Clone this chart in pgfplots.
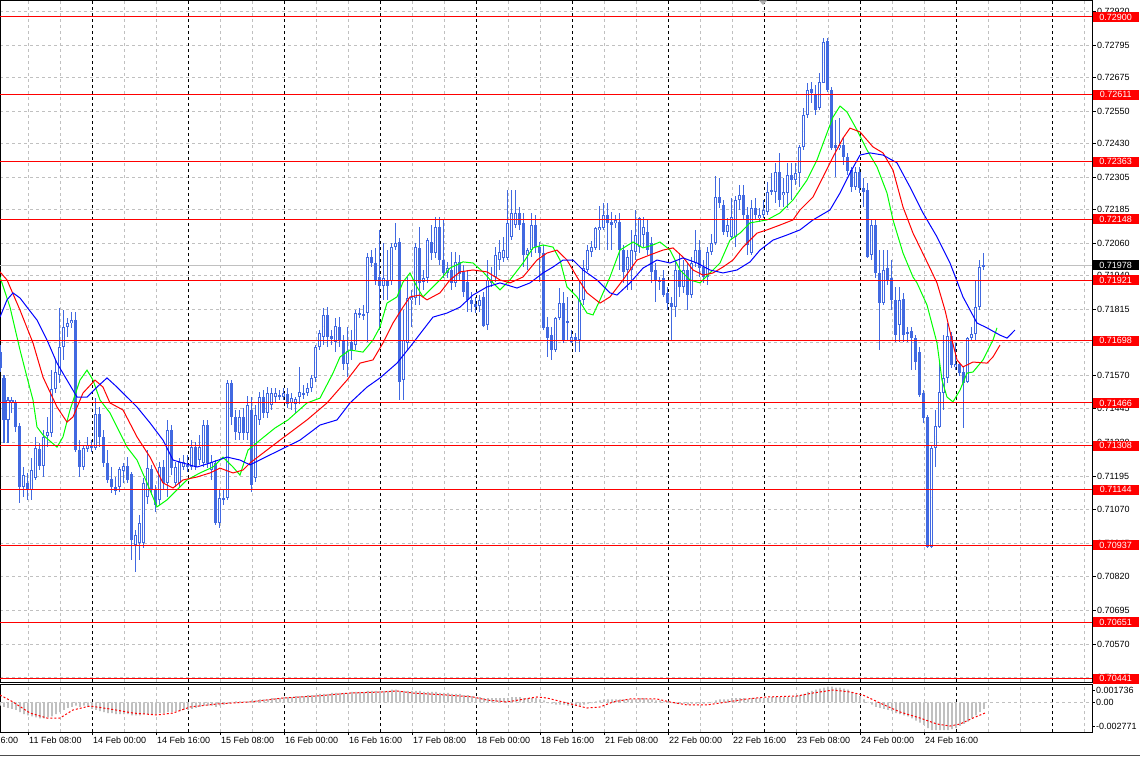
\documentclass[border=0pt]{standalone}
\usepackage{fontspec}
\setmainfont{Liberation Sans}
\usepackage{pgfplots}
\usepackage{pgfplotstable}
\pgfplotsset{compat=1.18}

\definecolor{candle}{RGB}{65,105,225}
\definecolor{gridgray}{RGB}{192,192,192}
\definecolor{mtgreen}{RGB}{0,255,0}

% hourly bars, x = trading hours from 11 Feb 08:00
\pgfplotstableread{
h o hi lo c
-7 0.71655 0.71681 0.71581 0.71596
-6 0.71562 0.71570 0.71317 0.71403
-5 0.71403 0.71488 0.71317 0.71477
-4 0.71466 0.71488 0.71429 0.71477
-3 0.71466 0.71477 0.71358 0.71377
-2 0.71380 0.71392 0.71094 0.71154
-1 0.71154 0.71228 0.71117 0.71198
0 0.71169 0.71206 0.71106 0.71143
1 0.71143 0.71262 0.71106 0.71217
2 0.71187 0.71340 0.71180 0.71299
3 0.71295 0.71317 0.71217 0.71232
4 0.71232 0.71366 0.71191 0.71340
5 0.71343 0.71414 0.71302 0.71358
6 0.71354 0.71588 0.71340 0.71518
7 0.71518 0.71626 0.71503 0.71581
8 0.71570 0.71819 0.71540 0.71674
9 0.71674 0.71811 0.71626 0.71748
10 0.71748 0.71782 0.71711 0.71763
11 0.71763 0.71804 0.71745 0.71774
12 0.71774 0.71804 0.71284 0.71291
13 0.71291 0.71328 0.71191 0.71228
14 0.71228 0.71310 0.71217 0.71299
15 0.71295 0.71340 0.71284 0.71310
16 0.71302 0.71328 0.71284 0.71306
17 0.71299 0.71484 0.71291 0.71425
18 0.71425 0.71451 0.71302 0.71340
19 0.71340 0.71366 0.71228 0.71243
20 0.71243 0.71291 0.71169 0.71180
21 0.71184 0.71228 0.71132 0.71154
22 0.71154 0.71191 0.71124 0.71139
23 0.71154 0.71228 0.71135 0.71221
24 0.71213 0.71243 0.71169 0.71232
25 0.71232 0.71265 0.71169 0.71180
26 0.71202 0.71210 0.70883 0.70957
27 0.70938 0.70994 0.70838 0.70975
28 0.70946 0.71050 0.70883 0.71020
29 0.70946 0.71187 0.70927 0.71169
30 0.71117 0.71291 0.71094 0.71224
31 0.71224 0.71236 0.71124 0.71143
32 0.71143 0.71161 0.71061 0.71087
33 0.71106 0.71247 0.71087 0.71228
34 0.71228 0.71254 0.71143 0.71169
35 0.71169 0.71403 0.71117 0.71366
36 0.71366 0.71384 0.71198 0.71224
37 0.71169 0.71247 0.71154 0.71228
38 0.71169 0.71262 0.71150 0.71247
39 0.71228 0.71273 0.71217 0.71247
40 0.71228 0.71273 0.71210 0.71236
41 0.71228 0.71328 0.71217 0.71302
42 0.71302 0.71321 0.71217 0.71228
43 0.71254 0.71347 0.71236 0.71302
44 0.71243 0.71403 0.71228 0.71384
45 0.71384 0.71403 0.71224 0.71243
46 0.71217 0.71273 0.71180 0.71247
47 0.71243 0.71254 0.71013 0.71020
48 0.71020 0.71143 0.71002 0.71113
49 0.71106 0.71143 0.71087 0.71113
50 0.71113 0.71551 0.71106 0.71540
51 0.71540 0.71551 0.71384 0.71414
52 0.71414 0.71440 0.71328 0.71358
53 0.71354 0.71440 0.71328 0.71414
54 0.71414 0.71447 0.71328 0.71354
55 0.71354 0.71492 0.71328 0.71458
56 0.71440 0.71488 0.71135 0.71161
57 0.71187 0.71458 0.71172 0.71421
58 0.71403 0.71507 0.71384 0.71488
59 0.71488 0.71514 0.71410 0.71429
60 0.71429 0.71525 0.71410 0.71503
61 0.71458 0.71522 0.71440 0.71503
62 0.71488 0.71522 0.71470 0.71503
63 0.71488 0.71514 0.71477 0.71496
64 0.71488 0.71522 0.71477 0.71503
65 0.71499 0.71522 0.71447 0.71462
66 0.71466 0.71503 0.71440 0.71484
67 0.71462 0.71488 0.71429 0.71481
68 0.71488 0.71600 0.71462 0.71507
69 0.71496 0.71533 0.71484 0.71503
70 0.71503 0.71540 0.71492 0.71522
71 0.71522 0.71570 0.71507 0.71559
72 0.71559 0.71681 0.71544 0.71674
73 0.71674 0.71737 0.71663 0.71726
74 0.71711 0.71819 0.71681 0.71793
75 0.71793 0.71822 0.71674 0.71711
76 0.71715 0.71737 0.71681 0.71704
77 0.71692 0.71782 0.71655 0.71752
78 0.71748 0.71785 0.71674 0.71700
79 0.71700 0.71718 0.71588 0.71611
80 0.71611 0.71748 0.71562 0.71659
81 0.71692 0.71737 0.71626 0.71659
82 0.71681 0.71811 0.71663 0.71800
83 0.71793 0.71819 0.71782 0.71800
84 0.71793 0.71830 0.71774 0.71796
85 0.71800 0.72023 0.71692 0.72008
86 0.72008 0.72034 0.71971 0.71986
87 0.71986 0.72042 0.71904 0.71923
88 0.71934 0.72109 0.71737 0.71901
89 0.71901 0.72060 0.71849 0.71930
90 0.71923 0.72034 0.71849 0.71901
91 0.71919 0.72060 0.71904 0.72045
92 0.72045 0.72135 0.72034 0.72060
93 0.72064 0.72079 0.71477 0.71544
94 0.71551 0.71811 0.71477 0.71700
95 0.71689 0.71934 0.71663 0.71856
96 0.71849 0.71886 0.71748 0.71860
97 0.71856 0.72060 0.71830 0.72045
98 0.72045 0.72120 0.71830 0.71912
99 0.71915 0.71960 0.71886 0.71930
100 0.71930 0.72079 0.71912 0.72071
101 0.72064 0.72127 0.71997 0.72023
102 0.72023 0.72157 0.72005 0.72120
103 0.72120 0.72157 0.71978 0.71997
104 0.71997 0.72146 0.71930 0.71949
105 0.71949 0.71990 0.71930 0.71967
106 0.71960 0.72027 0.71886 0.71912
107 0.71915 0.72027 0.71897 0.71990
108 0.71990 0.72016 0.71923 0.71945
109 0.71953 0.71979 0.71860 0.71878
110 0.71915 0.71960 0.71804 0.71849
111 0.71849 0.71878 0.71804 0.71834
112 0.71834 0.71860 0.71804 0.71822
113 0.71826 0.71867 0.71804 0.71849
114 0.71860 0.71878 0.71748 0.71752
115 0.71756 0.71997 0.71737 0.71923
116 0.71923 0.71971 0.71897 0.71912
117 0.71934 0.72045 0.71915 0.72016
118 0.71997 0.72071 0.71960 0.72027
119 0.72005 0.72083 0.71990 0.72034
120 0.72005 0.72257 0.71997 0.72135
121 0.72083 0.72257 0.72071 0.72172
122 0.72127 0.72257 0.72116 0.72172
123 0.72172 0.72194 0.72109 0.72127
124 0.72135 0.72172 0.71971 0.72016
125 0.72016 0.72042 0.71960 0.72034
126 0.72034 0.72172 0.72008 0.72127
127 0.72127 0.72164 0.72023 0.72045
128 0.72045 0.72064 0.71915 0.72023
129 0.72023 0.72053 0.71737 0.71745
130 0.71748 0.71785 0.71637 0.71707
131 0.71718 0.71748 0.71626 0.71663
132 0.71663 0.71785 0.71655 0.71782
133 0.71782 0.71893 0.71774 0.71837
134 0.71837 0.71878 0.71689 0.71700
135 0.71767 0.71860 0.71700 0.71770
136 0.71692 0.71737 0.71689 0.71711
137 0.71711 0.71726 0.71655 0.71696
138 0.71700 0.71923 0.71655 0.71849
139 0.71849 0.71997 0.71830 0.71967
140 0.71960 0.72053 0.71953 0.72034
141 0.72027 0.72071 0.72008 0.72045
142 0.72042 0.72120 0.72034 0.72116
143 0.72109 0.72201 0.72034 0.72120
144 0.72116 0.72209 0.72109 0.72164
145 0.72164 0.72209 0.72034 0.72135
146 0.72138 0.72175 0.72034 0.72127
147 0.72135 0.72164 0.72116 0.72146
148 0.72138 0.72172 0.71960 0.72034
149 0.72034 0.72053 0.71912 0.71953
150 0.71960 0.72034 0.71886 0.72008
151 0.71960 0.72109 0.71886 0.72034
152 0.72027 0.72183 0.71997 0.72090
153 0.72045 0.72157 0.72023 0.72153
154 0.72090 0.72157 0.72045 0.72120
155 0.72101 0.72146 0.72016 0.72034
156 0.72060 0.72083 0.71912 0.71953
157 0.71960 0.71986 0.71841 0.71923
158 0.71923 0.71934 0.71886 0.71915
159 0.71930 0.71960 0.71860 0.71867
160 0.71875 0.71897 0.71811 0.71837
161 0.71837 0.71860 0.71700 0.71822
162 0.71822 0.71997 0.71785 0.71960
163 0.71960 0.72023 0.71860 0.71897
164 0.71897 0.71997 0.71875 0.71960
165 0.71960 0.71986 0.71811 0.71867
166 0.71867 0.72008 0.71856 0.71986
167 0.71986 0.72109 0.71971 0.72034
168 0.72034 0.72071 0.71934 0.71967
169 0.71971 0.71997 0.71912 0.71934
170 0.71934 0.72045 0.71904 0.72027
171 0.72027 0.72097 0.72016 0.72060
172 0.72060 0.72309 0.72053 0.72231
173 0.72231 0.72302 0.72190 0.72209
174 0.72201 0.72220 0.72090 0.72101
175 0.72101 0.72153 0.72083 0.72127
176 0.72083 0.72227 0.72071 0.72157
177 0.72083 0.72235 0.72045 0.72220
178 0.72220 0.72276 0.72183 0.72239
179 0.72239 0.72276 0.72146 0.72164
180 0.72164 0.72194 0.72016 0.72053
181 0.72023 0.72220 0.72016 0.72190
182 0.72190 0.72227 0.72146 0.72164
183 0.72153 0.72190 0.72138 0.72164
184 0.72164 0.72220 0.72153 0.72183
185 0.72175 0.72287 0.72164 0.72250
186 0.72250 0.72320 0.72239 0.72257
187 0.72250 0.72358 0.72209 0.72324
188 0.72324 0.72395 0.72194 0.72220
189 0.72239 0.72302 0.72194 0.72250
190 0.72246 0.72358 0.72190 0.72313
191 0.72313 0.72358 0.72220 0.72294
192 0.72294 0.72358 0.72276 0.72320
193 0.72320 0.72424 0.72268 0.72417
194 0.72417 0.72562 0.72406 0.72536
195 0.72536 0.72658 0.72525 0.72629
196 0.72632 0.72658 0.72580 0.72618
197 0.72610 0.72647 0.72536 0.72554
198 0.72562 0.72692 0.72554 0.72658
199 0.72658 0.72822 0.72655 0.72807
200 0.72814 0.72822 0.72621 0.72629
201 0.72629 0.72640 0.72406 0.72413
202 0.72424 0.72517 0.72305 0.72413
203 0.72413 0.72525 0.72406 0.72424
204 0.72424 0.72450 0.72350 0.72380
205 0.72380 0.72395 0.72313 0.72331
206 0.72331 0.72343 0.72250 0.72268
207 0.72268 0.72343 0.72257 0.72324
208 0.72324 0.72343 0.72246 0.72265
209 0.72265 0.72302 0.72194 0.72250
210 0.72257 0.72283 0.72005 0.72008
211 0.72016 0.72146 0.71997 0.72127
212 0.72127 0.72146 0.71930 0.71949
213 0.71949 0.72034 0.71663 0.71837
214 0.71837 0.72034 0.71830 0.71960
215 0.71967 0.72034 0.71904 0.71923
216 0.71930 0.71997 0.71811 0.71849
217 0.71849 0.71897 0.71692 0.71718
218 0.71756 0.71897 0.71692 0.71849
219 0.71852 0.71875 0.71692 0.71718
220 0.71722 0.71748 0.71692 0.71730
221 0.71733 0.71748 0.71588 0.71707
222 0.71707 0.71718 0.71588 0.71618
223 0.71655 0.71674 0.71488 0.71496
224 0.71503 0.71514 0.71392 0.71410
225 0.71414 0.71421 0.70927 0.70931
226 0.70931 0.71306 0.70927 0.71299
227 0.71299 0.71440 0.71228 0.71380
228 0.71377 0.71626 0.71373 0.71507
229 0.71503 0.71718 0.71440 0.71559
230 0.71559 0.71763 0.71540 0.71715
231 0.71715 0.71730 0.71596 0.71607
232 0.71600 0.71689 0.71588 0.71611
233 0.71611 0.71618 0.71566 0.71577
234 0.71581 0.71600 0.71373 0.71540
235 0.71544 0.71711 0.71540 0.71707
236 0.71707 0.71748 0.71696 0.71722
237 0.71722 0.71923 0.71700 0.71822
238 0.71822 0.71997 0.71811 0.71971
239 0.71971 0.72023 0.71960 0.71978
}\candles

% MACD histogram
\pgfplotstableread{
h v
-7 -0.0003
-6 -0.0004
-5 -0.0005
-4 -0.0006
-3 -0.0007
-2 -0.0009
-1 -0.0011
0 -0.0012
1 -0.0013
2 -0.0014
3 -0.0015
4 -0.0015
5 -0.0014
6 -0.0013
7 -0.0011
8 -0.0009
9 -0.0007
10 -0.0005
11 -0.0004
12 -0.0003
13 -0.0004
14 -0.0003
15 -0.0004
16 -0.0006
17 -0.0007
18 -0.0008
19 -0.0009
20 -0.0010
21 -0.0010
22 -0.0011
23 -0.0011
24 -0.0011
25 -0.0011
26 -0.0012
27 -0.0012
28 -0.0012
29 -0.0011
30 -0.0011
31 -0.0011
32 -0.0011
33 -0.0010
34 -0.0010
35 -0.0009
36 -0.0009
37 -0.0008
38 -0.0008
39 -0.0007
40 -0.0007
41 -0.0006
42 -0.0005
43 -0.0004
44 -0.0003
45 -0.0003
46 -0.0003
47 -0.0004
48 -0.0003
49 -0.0002
50 -0.0001
51 0.00005
52 0.0001
53 0.0001
54 0.0001
55 0.0001
56 0.0002
57 0.0002
58 0.0003
59 0.0003
60 0.0003
61 0.0004
62 0.0004
63 0.0004
64 0.0005
65 0.0005
66 0.0005
67 0.0006
68 0.0006
69 0.0006
70 0.0007
71 0.0007
72 0.0007
73 0.0008
74 0.0008
75 0.0008
76 0.0009
77 0.0009
78 0.0009
79 0.0009
80 0.0009
81 0.0010
82 0.0010
83 0.0010
84 0.0010
85 0.0011
86 0.0011
87 0.0011
88 0.0011
89 0.0011
90 0.0011
91 0.0012
92 0.0012
93 0.0011
94 0.0011
95 0.0011
96 0.0011
97 0.0011
98 0.0011
99 0.0010
100 0.0010
101 0.0010
102 0.0010
103 0.0009
104 0.0009
105 0.0009
106 0.0008
107 0.0008
108 0.0008
109 0.0007
110 0.0007
111 0.0006
112 0.0005
113 0.0005
114 0.0004
115 0.0004
116 0.0004
117 0.0004
118 0.0004
119 0.0004
120 0.0004
121 0.0005
122 0.0005
123 0.0005
124 0.0004
125 0.0004
126 0.0004
127 0.0004
128 0.0003
129 0.0002
130 -0.00005
131 -0.0001
132 -0.0002
133 -0.0002
134 -0.0002
135 -0.0003
136 -0.0003
137 -0.0003
138 -0.0003
139 -0.0002
140 -0.0001
141 -0.00005
142 0.0001
143 0.0002
144 0.0003
145 0.0003
146 0.0003
147 0.0003
148 0.0003
149 0.0003
150 0.0003
151 0.0003
152 0.0003
153 0.0004
154 0.0004
155 0.0003
156 0.0003
157 0.0002
158 0.0002
159 0.0001
160 0.0001
161 -0.00005
162 -0.0001
163 -0.0001
164 -0.0001
165 -0.0002
166 -0.0001
167 -0.0001
168 -0.0001
169 -0.0001
170 -0.00005
171 0.00005
172 0.0002
173 0.0003
174 0.0003
175 0.0003
176 0.0004
177 0.0004
178 0.0004
179 0.0004
180 0.0003
181 0.0004
182 0.0004
183 0.0004
184 0.0004
185 0.0004
186 0.0005
187 0.0005
188 0.0005
189 0.0005
190 0.0005
191 0.0005
192 0.0006
193 0.0007
194 0.0008
195 0.0010
196 0.0011
197 0.0012
198 0.0013
199 0.0014
200 0.0015
201 0.0015
202 0.0014
203 0.0014
204 0.0013
205 0.0012
206 0.0010
207 0.0008
208 0.0006
209 0.0003
210 0.00005
211 -0.0002
212 -0.0004
213 -0.0005
214 -0.0006
215 -0.0007
216 -0.0008
217 -0.0010
218 -0.0011
219 -0.0012
220 -0.0013
221 -0.0015
222 -0.0017
223 -0.0019
224 -0.0021
225 -0.0024
226 -0.0026
227 -0.0026
228 -0.0026
229 -0.0026
230 -0.0026
231 -0.0025
232 -0.0024
233 -0.0022
234 -0.0020
235 -0.0018
236 -0.0015
237 -0.0012
238 -0.0009
239 -0.0006
}\macd

\begin{document}
\begin{tikzpicture}[font=\fontsize{9}{10}\selectfont]
\useasboundingbox (0pt,0pt) rectangle (1140pt,-757pt);

\begin{axis}[
  at={(0pt,0pt)}, anchor=north west, scale only axis,
  width=1092pt, height=682pt,
  xmin=-7, xmax=266, ymin=0.704294, ymax=0.72963,
  clip=false,
  axis line style={black, line width=0.8pt},
  scaled y ticks=false,
  xtick={0,16,...,224}, xticklabels={},
  minor xtick={8,24,...,232,240,248,256,264},
  xtick style={draw=none},
  xmajorgrids, xminorgrids, ymajorgrids,
  major grid style={gridgray, dash pattern=on 3pt off 3pt, line width=0.8pt},
  minor grid style={gridgray, dash pattern=on 3pt off 3pt, line width=0.8pt},
  ytick={0.72920,0.72795,0.72675,0.72550,0.72430,0.72305,0.72185,0.72060,0.71940,0.71815,0.71690,0.71570,0.71445,0.71320,0.71195,0.71070,0.70945,0.70820,0.70695,0.70570,0.70445},
  yticklabels={0.72920,0.72795,0.72675,0.72550,0.72430,0.72305,0.72185,0.72060,0.71940,0.71815,0.71690,0.71570,0.71445,0.71320,0.71195,0.71070,0.70945,0.70820,0.70695,0.70570,0.70445},
  ytick pos=right, yticklabel pos=right,
  tick align=outside, major tick length=4pt, minor tick length=0pt,
  ytick style={black, line width=0.8pt},
  yticklabel style={anchor=west, inner sep=0pt, xshift=1pt},
  candles/.style={only marks, mark=*, mark size=0pt, mark options={draw=none, fill=none}, forget plot},
]
% day separators
\pgfplotsinvokeforeach{16,40,...,256}{
  \draw[black, dash pattern=on 3pt off 3pt, line width=0.8pt] (axis cs:#1,0.704294) -- (axis cs:#1,0.72963);
}
% bid line
\draw[gridgray, line width=1pt] (axis cs:-7,0.71978) -- (axis cs:266,0.71978);

% wicks
\addplot[candles,
  error bars/.cd, y dir=both, y explicit, error mark=none,
  error bar style={draw=candle, solid, line width=1pt}]
  table[x=h, y expr={(\thisrow{hi}+\thisrow{lo})/2}, y error expr={(\thisrow{hi}-\thisrow{lo})/2}] {\candles};
% bodies
\addplot[candles,
  error bars/.cd, y dir=both, y explicit, error mark=none,
  error bar style={draw=candle, solid, line width=3pt}]
  table[x=h, y expr={(\thisrow{o}+\thisrow{c})/2}, y error expr={max(abs(\thisrow{c}-\thisrow{o})/2,0.000019)}] {\candles};
% hollow centres of up bars
\addplot[candles,
  restrict expr to domain={\thisrow{c}-\thisrow{o}}{0.0001:1},
  error bars/.cd, y dir=both, y explicit, error mark=none,
  error bar style={draw=white, solid, line width=1pt}]
  table[x=h, y expr={(\thisrow{o}+\thisrow{c})/2}, y error expr={(\thisrow{c}-\thisrow{o})/2-0.0000372}] {\candles};

% moving averages
\addplot[mtgreen, line width=1pt, mark=none] coordinates {
(-7,0.71934) (-4.5,0.71822) (-2,0.71663) (-0.25,0.71562) (1.25,0.71477) (2.25,0.71377) (3.75,0.71347) (7.25,0.71302) (8.75,0.71340) (10.5,0.71440) (13,0.71551) (14.75,0.71588) (16.25,0.71551) (18,0.71477) (20.5,0.71429) (24.75,0.71302) (27.25,0.71254) (29.75,0.71169) (32.25,0.71080) (34.75,0.71106) (37.25,0.71143) (39.75,0.71180) (43,0.71206) (46.25,0.71228) (48.75,0.71265) (51.25,0.71228) (53,0.71198) (55,0.71291) (58,0.71328) (61.75,0.71373) (65,0.71403) (69.75,0.71466) (73,0.71484) (76.25,0.71577) (78,0.71637) (80.5,0.71663) (83.75,0.71655) (86.25,0.71700) (88,0.71748) (89.75,0.71837) (92.25,0.71860) (93.75,0.71915) (95.5,0.71949) (97.25,0.71897) (98.75,0.71860) (100.5,0.71886) (103,0.71923) (105.5,0.71967) (108.75,0.71990) (111.25,0.71986) (113.75,0.71953) (116.25,0.71912) (118,0.71886) (120.5,0.71923) (123.75,0.71986) (126.25,0.72042) (128.75,0.72053) (131.25,0.72045) (133,0.71997) (134.75,0.71897) (137.25,0.71860) (139.75,0.71800) (141.25,0.71793) (143,0.71849) (145.5,0.71934) (148,0.72034) (151.25,0.72064) (153.75,0.72042) (156.25,0.72053) (158,0.72064) (160.5,0.72034) (163,0.71960) (165.5,0.71923) (168,0.71912) (170.5,0.71949) (173,0.71986) (175.5,0.72071) (178,0.72097) (180.5,0.72135) (184.75,0.72146) (188,0.72172) (191.25,0.72220) (194.75,0.72294) (197.25,0.72369) (199.75,0.72469) (201.25,0.72528) (203,0.72569) (204.75,0.72547) (207.25,0.72480) (209.75,0.72406) (212.25,0.72343) (214.75,0.72246) (216.25,0.72146) (218.75,0.72023) (221.25,0.71934) (222.25,0.71912) (224.75,0.71830) (227.25,0.71689) (228.5,0.71551) (229.75,0.71488) (231.25,0.71470) (233,0.71514) (234.75,0.71577) (236.25,0.71581) (238.75,0.71626) (241.25,0.71700) (242.25,0.71745)
};
\addplot[red, line width=1pt, mark=none] coordinates {
(-7,0.71953) (-5.25,0.71923) (-2,0.71811) (1.25,0.71689) (3.75,0.71562) (7.25,0.71451) (9.75,0.71395) (11.25,0.71414) (13.75,0.71503) (16.75,0.71551) (18.75,0.71525) (20.5,0.71466) (23.75,0.71440) (27.25,0.71340) (30.5,0.71265) (33.75,0.71169) (36.25,0.71150) (38.75,0.71180) (42.25,0.71191) (45.5,0.71206) (48,0.71224) (51.25,0.71206) (53.75,0.71217) (55.5,0.71243) (63,0.71328) (69.75,0.71403) (74.75,0.71466) (79.75,0.71551) (83,0.71614) (86.25,0.71626) (88.75,0.71689) (91.25,0.71763) (93.75,0.71822) (95.5,0.71860) (98,0.71867) (99.75,0.71849) (103,0.71875) (105.5,0.71923) (108,0.71953) (111.25,0.71960) (114.75,0.71953) (118,0.71923) (120.5,0.71912) (123.75,0.71934) (127.25,0.71997) (129.75,0.72023) (132.25,0.72034) (134.75,0.71997) (137.25,0.71934) (139.75,0.71875) (143,0.71837) (145.5,0.71860) (148.75,0.71923) (152.25,0.71997) (155.5,0.72016) (158.75,0.72034) (161.25,0.72042) (163.75,0.72008) (166.25,0.71960) (168.75,0.71941) (171.25,0.71949) (173.75,0.71971) (176.25,0.71997) (178.75,0.72045) (182.25,0.72097) (184.75,0.72109) (188,0.72127) (191.25,0.72146) (193,0.72183) (196.25,0.72231) (198.75,0.72305) (201.25,0.72380) (203.75,0.72450) (205.5,0.72487) (208,0.72473) (211.25,0.72417) (213.75,0.72395) (216.25,0.72331) (218.75,0.72194) (221.25,0.72097) (224.75,0.71990) (227.25,0.71912) (229.25,0.71811) (231,0.71700) (232.25,0.71626) (233.75,0.71600) (236.25,0.71618) (239.75,0.71614) (241.25,0.71637) (243,0.71681)
};
\addplot[blue, line width=1pt, mark=none] coordinates {
(-7,0.71785) (-5.25,0.71849) (-3.75,0.71875) (-2,0.71856) (-0.25,0.71822) (2.25,0.71774) (4.75,0.71700) (7.25,0.71614) (9.75,0.71551) (12.25,0.71488) (14.75,0.71488) (17.25,0.71525) (19.75,0.71559) (22.25,0.71525) (24.75,0.71488) (27.25,0.71451) (30.5,0.71392) (33.75,0.71328) (36.25,0.71254) (38.75,0.71243) (42.25,0.71228) (45.5,0.71243) (49.75,0.71265) (53,0.71254) (55.5,0.71236) (60.5,0.71273) (68,0.71328) (73,0.71384) (77.25,0.71403) (80.5,0.71466) (84.75,0.71525) (88,0.71559) (92.25,0.71614) (95.5,0.71674) (98.75,0.71737) (101.25,0.71785) (104.75,0.71800) (108,0.71822) (111.25,0.71867) (114.75,0.71897) (118,0.71912) (122.25,0.71893) (125.5,0.71912) (128.75,0.71949) (131.25,0.71971) (133.75,0.71997) (136.25,0.71997) (138.75,0.71960) (142.25,0.71923) (145.5,0.71875) (147.25,0.71867) (150.5,0.71912) (153.75,0.71967) (157.25,0.71997) (160.5,0.71986) (163.75,0.72005) (167.25,0.71986) (170.5,0.71960) (173.75,0.71949) (177.25,0.71960) (180.5,0.71990) (183,0.72034) (186.25,0.72071) (189.75,0.72090) (193,0.72109) (196.25,0.72146) (200.5,0.72183) (203,0.72246) (205.5,0.72320) (208,0.72387) (210.5,0.72395) (213.75,0.72387) (217.25,0.72358) (220.5,0.72268) (223.75,0.72172) (227.25,0.72083) (230.5,0.71986) (233.75,0.71860) (237.25,0.71763) (239.75,0.71745) (243,0.71718) (244.75,0.71707) (246.75,0.71737)
};

% horizontal levels
\pgfplotsinvokeforeach{0.72900,0.72611,0.72363,0.72148,0.71921,0.71698,0.71466,0.71308,0.71144,0.70937,0.70651,0.70441}{
  \draw[red, line width=1pt] (axis cs:-7,#1) -- (axis cs:266,#1);
  \node[fill=red, text=white, anchor=west, inner sep=0pt, minimum width=46pt, minimum height=10pt, xshift=0.5pt] at (axis cs:266,#1) {#1};
}
\node[fill=black, text=white, anchor=west, inner sep=0pt, minimum width=46pt, minimum height=10pt, xshift=0.5pt] at (axis cs:266,0.71978) {0.71978};
\end{axis}

\begin{axis}[
  at={(0pt,-684pt)}, anchor=north west, scale only axis,
  width=1092pt, height=48pt,
  xmin=-7, xmax=266, ymin=-0.002771, ymax=0.001736,
  clip=false,
  axis line style={black, line width=0.8pt},
  scaled y ticks=false,
  xtick={0,16,...,224},
  xticklabels={11 Feb 08:00,14 Feb 00:00,14 Feb 16:00,15 Feb 08:00,16 Feb 00:00,16 Feb 16:00,17 Feb 08:00,18 Feb 00:00,18 Feb 16:00,21 Feb 08:00,22 Feb 00:00,22 Feb 16:00,23 Feb 08:00,24 Feb 00:00,24 Feb 16:00},
  minor xtick={8,24,...,232,240,248,256,264},
  xtick pos=bottom,
  xmajorgrids, xminorgrids,
  major grid style={gridgray, dash pattern=on 3pt off 3pt, line width=0.8pt},
  minor grid style={gridgray, dash pattern=on 3pt off 3pt, line width=0.8pt},
  tick align=outside, major tick length=3pt, minor tick length=0pt,
  tick style={black, line width=0.8pt},
  xticklabel style={anchor=north west, inner xsep=1pt, inner ysep=1.5pt},
  ytick={0.001173,0,-0.002208},
  yticklabels={0.001736,0.00,-0.002771},
  ytick pos=right, yticklabel pos=right,
  yticklabel style={anchor=west, inner sep=0pt, xshift=1pt},
]
\pgfplotsinvokeforeach{16,40,...,256}{
  \draw[black, dash pattern=on 3pt off 3pt, line width=0.8pt] (axis cs:#1,-0.002771) -- (axis cs:#1,0.001736);
}
\draw[gridgray, dash pattern=on 3pt off 3pt, line width=0.8pt] (axis cs:-7,0) -- (axis cs:266,0);
\addplot[ybar, bar width=1.6pt, fill=gridgray, draw=none, forget plot] table[x=h, y=v] {\macd};
\addplot[red, line width=1pt, dash pattern=on 2pt off 2pt, mark=none] coordinates {
(-7,0.00070) (-3.75,0.00005) (0.5,-0.00099) (4.75,-0.00146) (8,-0.00146) (11.25,-0.00070) (15.5,-0.00033) (20.5,-0.00061) (26.25,-0.00099) (32.25,-0.00117) (36.25,-0.00099) (40.5,-0.00042) (47.25,-0.00014) (55.5,0.00005) (63.75,0.00042) (72.25,0.00061) (80.5,0.00089) (88.75,0.00099) (92.25,0.00108) (96.25,0.00089) (104.75,0.00070) (111.25,0.00052) (114.75,0.00023) (119.75,0.00005) (127.25,0.00052) (129.75,0.00042) (134.75,-0.00005) (139.75,-0.00052) (143,-0.00042) (146.25,0.00005) (150.5,0.00033) (157.25,0.00033) (160.5,0.00005) (164.75,-0.00023) (169.75,-0.00023) (174.75,0.00005) (179.75,0.00033) (184.75,0.00052) (192.25,0.00061) (196.25,0.00089) (201.25,0.00117) (205.5,0.00099) (208.75,0.00070) (213,-0.00005) (218,-0.00089) (223,-0.00146) (227.25,-0.00202) (230.5,-0.00221) (233,-0.00202) (236.25,-0.00146) (239.25,-0.00099)
};
\draw[black, line width=0.8pt] (axis cs:-16,-0.002771) -- ++(0,-3pt);
\node[anchor=north west, inner xsep=1pt, inner ysep=1.5pt, yshift=-3pt] at (axis cs:-16,-0.002771) {10 Feb 16:00};
\end{axis}

\fill[gray!60] (759pt,-0.5pt) -- (767pt,-0.5pt) -- (763pt,-5pt) -- cycle;
\draw[black!70, line width=1pt] (0pt,-755pt) -- (1140pt,-755pt);
\end{tikzpicture}
\end{document}
